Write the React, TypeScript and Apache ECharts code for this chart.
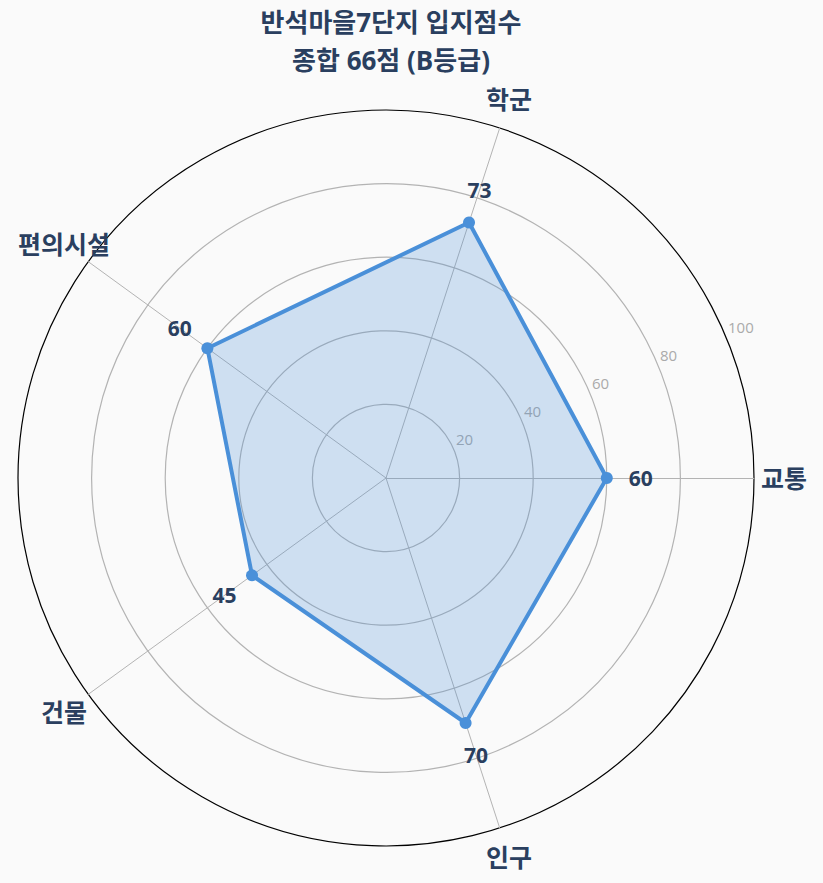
import React, { useEffect, useRef } from "react";
import * as echarts from "echarts";

const indicators = ["교통", "학군", "편의시설", "건물", "인구"];
const scores = [60, 73, 60, 45, 70];
const axisMin = 0;
const axisMax = 100;
const tickInterval = 20;
const titleLines = ["반석마을7단지 입지점수", "종합 66점 (B등급)"];

const FONT = "'Open Sans', 'Noto Sans CJK KR', sans-serif";
const CX = 386;
const CY = 478;
const R = 368;
const STEP = 360 / indicators.length;

export default function App() {
  const ref = useRef<HTMLDivElement>(null);
  useEffect(() => {
    if (!ref.current) return;
    const chart = echarts.init(ref.current, null, { renderer: "svg" });
    const grey = "#b3b3b3";
    const titleStyle = {
      fontFamily: FONT,
      fontSize: 26,
      fontWeight: "bold",
      color: "#2a3f5f",
      lineHeight: 30,
    };
    const option: any = {
      animation: false,
      backgroundColor: "#fafafa",
      textStyle: { fontFamily: FONT },
      title: {
        text: titleLines[0],
        subtext: titleLines[1],
        left: CX,
        top: 2,
        itemGap: 8,
        textAlign: "center",
        textStyle: titleStyle,
        subtextStyle: titleStyle,
      },
      radar: {
        center: [CX, CY],
        radius: R,
        startAngle: 0,
        shape: "circle",
        splitNumber: 5,
        indicator: indicators.map((n) => ({ name: n, min: axisMin, max: axisMax })),
        axisName: {
          color: "#2a3f5f",
          fontSize: 25,
          fontWeight: "bold",
          fontFamily: FONT,
          align: "center",
          verticalAlign: "middle",
        },
        nameGap: 30,
        axisLine: { lineStyle: { color: grey, width: 1 } },
        splitLine: {
          lineStyle: { color: [grey, grey, grey, grey, grey, "#000000"], width: 1.2 },
        },
        splitArea: { show: false },
        axisTick: { show: false },
        axisLabel: { show: false },
      },
      polar: [
        { center: [CX, CY], radius: R },
        { center: [CX + 2, CY - 10.5], radius: R },
      ],
      angleAxis: [
        { polarIndex: 0, type: "value", min: 0, max: 360, startAngle: 0, clockwise: false, show: false },
        { polarIndex: 1, type: "value", min: 0, max: 360, startAngle: 22.5, clockwise: false, show: false },
      ],
      radiusAxis: [
        { polarIndex: 0, type: "value", min: axisMin, max: axisMax, show: false },
        {
          polarIndex: 1,
          type: "value",
          min: axisMin,
          max: axisMax,
          interval: tickInterval,
          axisLine: { show: false },
          axisTick: { show: false },
          splitLine: { show: false },
          axisLabel: {
            show: true,
            showMinLabel: false,
            margin: 0,
            align: "left",
            verticalAlign: "middle",
            color: "#aaaaaa",
            fontSize: 15,
            fontFamily: FONT,
          },
        },
      ],
      series: [
        {
          type: "radar",
          data: [{ value: scores, name: "입지점수" }],
          symbol: "circle",
          symbolSize: 12,
          lineStyle: { color: "#4a90d9", width: 4 },
          itemStyle: { color: "#4a90d9" },
          areaStyle: { color: "#4a90d9", opacity: 0.25 },
          z: 3,
        },
        {
          type: "scatter",
          coordinateSystem: "polar",
          polarIndex: 0,
          symbolSize: 0,
          silent: true,
          z: 5,
          itemStyle: { opacity: 1 },
          data: scores.map((v, i) => {
            const a = (i * STEP * Math.PI) / 180;
            return {
              value: [v, i * STEP],
              label: { offset: [Math.cos(a) * 34, -Math.sin(a) * 34] },
            };
          }),
          label: {
            show: true,
            position: "inside",
            formatter: (p: any) => String(p.value[0]),
            color: "#2a3f5f",
            fontSize: 21,
            fontWeight: "bold",
            fontFamily: FONT,
          },
        },
      ],
    };
    chart.setOption(option);
    return () => chart.dispose();
  }, []);
  return (
    <div
      ref={ref}
      style={{ position: "absolute", left: 0, top: 0, width: 823, height: 883 }}
    />
  );
}
